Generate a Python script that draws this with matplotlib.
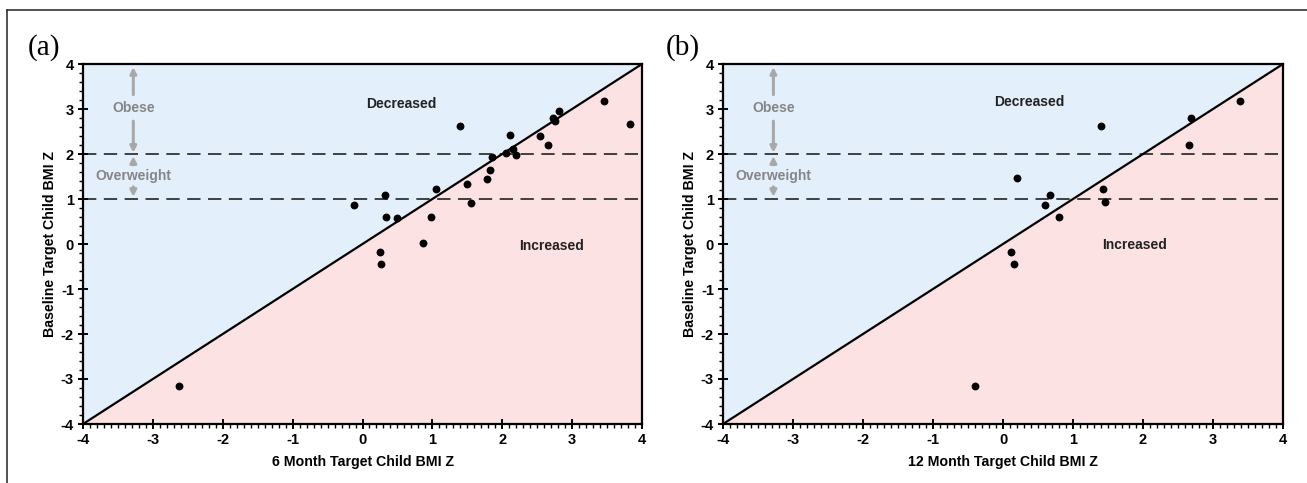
import matplotlib
matplotlib.use("Agg")
import matplotlib.pyplot as plt
from matplotlib.ticker import MultipleLocator
from matplotlib.lines import Line2D

# ---- data ----
panel_a_x = [-0.12, 0.32, 0.33, 0.50, 0.25, 0.26, 0.86, 0.98, 1.05, 1.39, 1.50, 1.55,
             1.78, 1.82, 1.86, 2.05, 2.11, 2.15, 2.20, 2.54, 2.66, 2.73, 2.75, 2.81,
             3.45, 3.83, -2.62]
panel_a_y = [0.87, 1.09, 0.61, 0.58, -0.17, -0.45, 0.03, 0.61, 1.22, 2.63, 1.33, 0.92,
             1.45, 1.64, 1.93, 2.03, 2.42, 2.12, 1.97, 2.40, 2.19, 2.79, 2.73, 2.96,
             3.18, 2.67, -3.16]
panel_b_x = [0.20, 0.67, 0.60, 0.80, 0.11, 0.16, 1.40, 1.43, 1.46, 2.66, 2.69, 3.39, -0.40]
panel_b_y = [1.46, 1.10, 0.86, 0.61, -0.17, -0.45, 2.63, 1.22, 0.94, 2.19, 2.79, 3.18, -3.16]

panel_letters = ["(a)", "(b)"]
x_labels = ["6 Month Target Child BMI Z", "12 Month Target Child BMI Z"]
y_label = "Baseline Target Child BMI Z"
axis_limits = [-4, 4]
ticks = [-4, -3, -2, -1, 0, 1, 2, 3, 4]
thresholds = [1, 2]
decreased_pos = [(0.55, 3.12), (0.38, 3.15)]
increased_pos = [(2.70, -0.05), (1.88, -0.02)]

BLUE = "#e3f0fb"
PINK = "#fde2e4"
GREY_ARROW = "#a8a8a8"
GREY_TEXT = "#858585"

plt.rcParams["font.family"] = ["Liberation Sans", "DejaVu Sans"]

fig = plt.figure(figsize=(13.07, 4.83), dpi=100)

# outer frame (left and top lines)
fig.add_artist(Line2D([7 / 1307, 7 / 1307], [0, 1 - 10 / 483], color="#333333", lw=1.2,
                      transform=fig.transFigure))
fig.add_artist(Line2D([7 / 1307, 1], [1 - 10 / 483, 1 - 10 / 483], color="#333333", lw=1.2,
                      transform=fig.transFigure))

positions = [[83 / 1307, 1 - 424 / 483, 559 / 1307, 360 / 483],
             [723 / 1307, 1 - 424 / 483, 560 / 1307, 360 / 483]]
letter_pos = [(28 / 1307, 1 - 48 / 483), (666 / 1307, 1 - 48 / 483)]
datasets = [(panel_a_x, panel_a_y), (panel_b_x, panel_b_y)]

for i in range(2):
    ax = fig.add_axes(positions[i])
    lo, hi = axis_limits
    ax.set_xlim(lo, hi)
    ax.set_ylim(lo, hi)
    ax.fill_between(axis_limits, axis_limits, [hi, hi], color=BLUE, lw=0, zorder=0)
    ax.fill_between(axis_limits, [lo, lo], axis_limits, color=PINK, lw=0, zorder=0)
    ax.plot(axis_limits, axis_limits, color="black", lw=1.6, zorder=2)
    for t in thresholds:
        ax.axhline(t, color="#222222", lw=1.2, dashes=(8, 4.5), zorder=1)
    xs, ys = datasets[i]
    ax.scatter(xs, ys, s=32, color="black", zorder=3, linewidths=0)

    # annotations: Obese / Overweight
    ax_x = -3.28
    ap = dict(arrowstyle="-|>,head_length=0.35,head_width=0.18", color=GREY_ARROW, lw=2.2,
              shrinkA=0, shrinkB=0)
    ax.annotate("", xy=(ax_x, 3.93), xytext=(ax_x, 3.32), arrowprops=ap)
    ax.annotate("", xy=(ax_x, 2.03), xytext=(ax_x, 2.73), arrowprops=ap)
    ax.text(ax_x, 3.02, "Obese", ha="center", va="center", color=GREY_TEXT,
            fontsize=10, fontweight="bold")
    ax.annotate("", xy=(ax_x, 1.95), xytext=(ax_x, 1.76), arrowprops=ap)
    ax.annotate("", xy=(ax_x, 1.05), xytext=(ax_x, 1.27), arrowprops=ap)
    ax.text(ax_x, 1.52, "Overweight", ha="center", va="center", color=GREY_TEXT,
            fontsize=10, fontweight="bold")

    ax.text(*decreased_pos[i], "Decreased", ha="center", va="center", fontsize=10,
            fontweight="bold", color="#222222")
    ax.text(*increased_pos[i], "Increased", ha="center", va="center", fontsize=10,
            fontweight="bold", color="#222222")

    ax.set_xticks(ticks)
    ax.set_yticks(ticks)
    ax.set_xticklabels([str(t) for t in ticks])
    ax.set_yticklabels([str(t) for t in ticks])
    ax.xaxis.set_minor_locator(MultipleLocator(0.1))
    ax.yaxis.set_minor_locator(MultipleLocator(0.2))
    ax.tick_params(which="major", direction="inout", length=7, width=1.4, labelsize=10.5,
                   pad=3)
    ax.tick_params(which="minor", direction="out", length=3, width=1.0)
    for lab in ax.get_xticklabels() + ax.get_yticklabels():
        lab.set_fontweight("bold")
    for sp in ax.spines.values():
        sp.set_linewidth(1.6)
    ax.set_xlabel(x_labels[i], fontsize=10.2, fontweight="bold", labelpad=6)
    ax.set_ylabel(y_label, fontsize=10.2, fontweight="bold", labelpad=3)

    fig.text(*letter_pos[i], panel_letters[i], fontsize=21, family="Liberation Serif",
             ha="left", va="center")

fig.savefig("out.png", dpi=100)
